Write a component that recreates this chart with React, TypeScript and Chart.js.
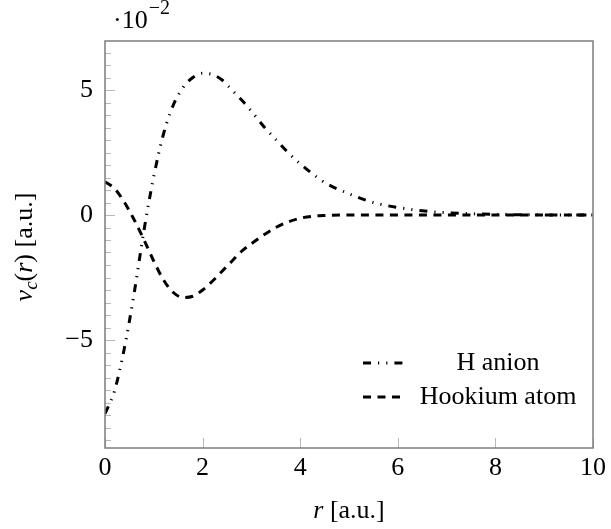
import React, { useEffect, useRef } from 'react';
import { Chart, registerables } from 'chart.js';

Chart.register(...registerables);

// r in atomic units
const radius = [0, 0.2, 0.4, 0.6, 0.8, 1.0, 1.2, 1.4, 1.6, 1.8, 2.0, 2.2, 2.4, 2.6, 2.8, 3.0, 3.25, 3.5, 3.75, 4.0, 4.25, 4.5, 5.0, 5.5, 6.0, 6.5, 7.0, 7.5, 8.0, 8.5, 9.0, 9.5, 10.0];
// values in units of 10^-2 a.u.
const hAnion = [-7.95, -7.0, -5.3, -3.1, -0.6, 1.55, 3.25, 4.4, 5.1, 5.5, 5.67, 5.62, 5.4, 5.0, 4.6, 4.15, 3.55, 3.02, 2.5, 2.05, 1.65, 1.3, 0.85, 0.5, 0.3, 0.17, 0.09, 0.05, 0.025, 0.012, 0.005, 0.002, 0.001];
const hookium = [1.33, 1.05, 0.5, -0.2, -1.0, -1.85, -2.6, -3.1, -3.3, -3.25, -3.0, -2.65, -2.25, -1.85, -1.45, -1.15, -0.8, -0.5, -0.28, -0.13, -0.05, -0.02, 0, 0, 0, 0, 0, 0, 0, 0, 0, 0, 0];
const seriesLabels = ['H anion', 'Hookium atom'];
const xRange = [0, 10];
const yRange = [-9.32, 6.96];
const xStep = 2;
const yStep = 5;
const yMinorStep = 0.5;
const scaleExponent = '−2';
const xTitle = ['r', ' [a.u.]'];
const yTitle = ['v', 'c', '(', 'r', ') [a.u.]'];

const FONT = '"Liberation Serif", "Times New Roman", serif';
const FS = 26;

const decorPlugin = {
  id: 'decor',
  afterDraw(chart: any) {
    const { ctx, chartArea: a, scales } = chart;
    const xs = scales.x;
    const ys = scales.y;
    ctx.save();
    // minor / major ticks inside
    ctx.strokeStyle = '#b8b8b8';
    ctx.lineWidth = 1;
    ctx.setLineDash([]);
    const start = Math.ceil(ys.min / yMinorStep) * yMinorStep;
    for (let v = start; v <= ys.max + 1e-9; v += yMinorStep) {
      const py = Math.round(ys.getPixelForValue(v)) + 0.5;
      const major = Math.abs(v / yStep - Math.round(v / yStep)) < 1e-6;
      ctx.beginPath();
      ctx.moveTo(a.left, py);
      ctx.lineTo(a.left + (major ? 10 : 6), py);
      ctx.stroke();
    }
    xs.ticks.forEach((t: any) => {
      const px = Math.round(xs.getPixelForValue(t.value)) + 0.5;
      ctx.beginPath();
      ctx.moveTo(px, a.bottom);
      ctx.lineTo(px, a.bottom - 10);
      ctx.stroke();
    });
    // frame
    ctx.strokeStyle = '#7c7c7c';
    ctx.lineWidth = 1.5;
    ctx.strokeRect(a.left, a.top, a.right - a.left, a.bottom - a.top);

    ctx.fillStyle = '#000';
    ctx.textBaseline = 'alphabetic';
    // scale label ·10^-2
    ctx.font = `${FS}px ${FONT}`;
    ctx.textAlign = 'left';
    ctx.fillText('·10', 113, 28);
    const w10 = ctx.measureText('·10').width;
    ctx.font = `${Math.round(FS * 0.75)}px ${FONT}`;
    ctx.fillText(scaleExponent, 113 + w10 + 1, 14);

    // x title
    const reg = `${FS}px ${FONT}`;
    const ita = `italic ${FS}px ${FONT}`;
    ctx.font = ita;
    const wr = ctx.measureText(xTitle[0]).width;
    ctx.font = reg;
    const wrest = ctx.measureText(xTitle[1]).width;
    const xc = (a.left + a.right) / 2;
    const cx = xc - (wr + wrest) / 2;
    ctx.font = ita;
    ctx.fillText(xTitle[0], cx, 518);
    ctx.font = reg;
    ctx.fillText(xTitle[1], cx + wr, 518);

    // y title (rotated)
    const sub = `italic ${Math.round(FS * 0.72)}px ${FONT}`;
    const parts = [
      { t: yTitle[0], f: ita, dy: 0 },
      { t: yTitle[1], f: sub, dy: 5 },
      { t: yTitle[2], f: reg, dy: 0 },
      { t: yTitle[3], f: ita, dy: 0 },
      { t: yTitle[4], f: reg, dy: 0 },
    ];
    let total = 0;
    const widths = parts.map((p) => {
      ctx.font = p.f;
      const w = ctx.measureText(p.t).width;
      total += w;
      return w;
    });
    ctx.translate(32, 247);
    ctx.rotate(-Math.PI / 2);
    let px = -total / 2;
    parts.forEach((p, i) => {
      ctx.font = p.f;
      ctx.fillText(p.t, px, p.dy);
      px += widths[i];
    });
    ctx.setTransform(1, 0, 0, 1, 0, 0);

    // legend
    const rows = [363, 397];
    chart.data.datasets.forEach((ds: any, i: number) => {
      const y = rows[i];
      ctx.strokeStyle = ds.borderColor;
      ctx.lineWidth = ds.borderWidth;
      ctx.lineCap = 'butt';
      ctx.setLineDash(ds.borderDash);
      ctx.beginPath();
      ctx.moveTo(363, y);
      ctx.lineTo(403, y);
      ctx.stroke();
      ctx.setLineDash([]);
      ctx.font = reg;
      ctx.textAlign = 'center';
      ctx.fillText(ds.label, 498, y + 7);
    });
    ctx.restore();
  },
};

export default function App() {
  const ref = useRef<HTMLCanvasElement | null>(null);
  useEffect(() => {
    document.body.style.margin = '0';
    const canvas = ref.current;
    if (!canvas) return;
    const chart = new Chart(canvas, {
      type: 'line',
      data: {
        datasets: [
          {
            label: seriesLabels[0],
            data: hAnion.map((v, i) => ({ x: radius[i], y: v })),
            borderColor: '#000',
            borderWidth: 3,
            borderDash: [8, 7, 1.2, 7, 1.2, 7],
            borderCapStyle: 'butt',
            pointRadius: 0,
            cubicInterpolationMode: 'monotone',
            fill: false,
          },
          {
            label: seriesLabels[1],
            data: hookium.map((v, i) => ({ x: radius[i], y: v })),
            borderColor: '#000',
            borderWidth: 3,
            borderDash: [8, 6.5],
            borderCapStyle: 'butt',
            pointRadius: 0,
            cubicInterpolationMode: 'monotone',
            fill: false,
          },
        ],
      },
      options: {
        responsive: false,
        animation: false,
        layout: { padding: { top: 41, right: 14, left: 0, bottom: 0 } },
        plugins: { legend: { display: false }, tooltip: { enabled: false } },
        scales: {
          x: {
            type: 'linear',
            min: xRange[0],
            max: xRange[1],
            grid: { display: false, drawTicks: false },
            border: { display: false },
            ticks: {
              stepSize: xStep,
              includeBounds: false,
              padding: 5,
              color: '#000',
              font: { family: FONT, size: FS },
              maxRotation: 0,
            },
            afterFit: (s: any) => {
              s.height = 81;
            },
          },
          y: {
            type: 'linear',
            min: yRange[0],
            max: yRange[1],
            grid: { display: false, drawTicks: false },
            border: { display: false },
            ticks: {
              stepSize: yStep,
              includeBounds: false,
              padding: 12,
              color: '#000',
              font: { family: FONT, size: FS },
              callback: (v: any) => (v < 0 ? '−' + Math.abs(v) : String(v)),
            },
            afterFit: (s: any) => {
              s.width = 105;
            },
          },
        },
      },
      plugins: [decorPlugin],
    } as any);
    return () => chart.destroy();
  }, []);
  return <canvas ref={ref} width={611} height={529} style={{ display: 'block' }} />;
}
